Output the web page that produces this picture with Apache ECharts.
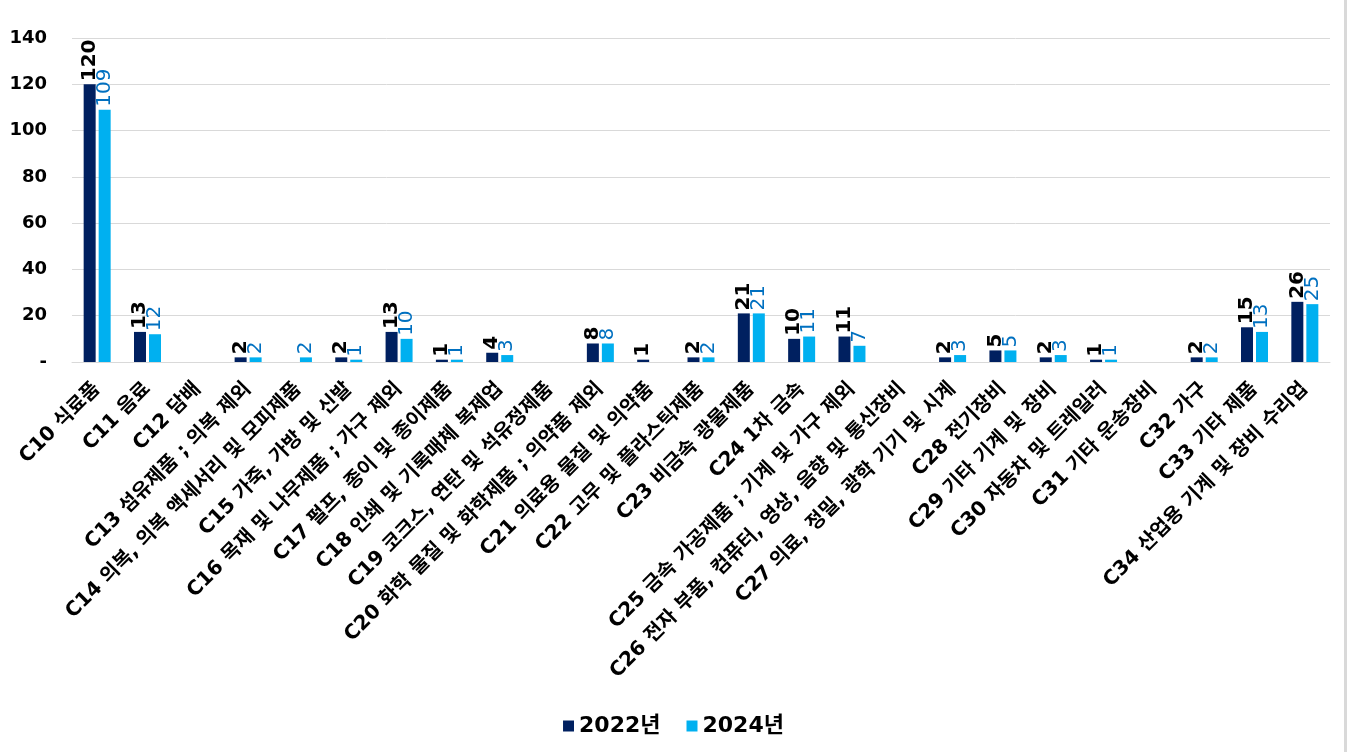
<!DOCTYPE html>
<html>
<head>
<meta charset="utf-8">
<script src="https://cdn.jsdelivr.net/npm/echarts@6/dist/echarts.min.js"></script>
<style>
html,body{margin:0;padding:0;background:#fff;}
#chart{width:1347px;height:752px;}
</style>
</head>
<body>
<div id="chart"></div>
<script>
const categories = [
  'C10 식료품','C11 음료','C12 담배','C13 섬유제품 ; 의복 제외','C14 의복, 의복 액세서리 및 모피제품',
  'C15 가죽, 가방 및 신발','C16 목재 및 나무제품 ; 가구 제외','C17 펄프, 종이 및 종이제품','C18 인쇄 및 기록매체 복제업',
  'C19 코크스, 연탄 및 석유정제품','C20 화학 물질 및 화학제품 ; 의약품 제외','C21 의료용 물질 및 의약품',
  'C22 고무 및 플라스틱제품','C23 비금속 광물제품','C24 1차 금속','C25 금속 가공제품 ; 기계 및 가구 제외',
  'C26 전자 부품, 컴퓨터, 영상, 음향 및 통신장비','C27 의료, 정밀, 광학 기기 및 시계','C28 전기장비',
  'C29 기타 기계 및 장비','C30 자동차 및 트레일러','C31 기타 운송장비','C32 가구','C33 기타 제품',
  'C34 산업용 기계 및 장비 수리업'
];
const values2022 = [120,13,null,2,null,2,13,1,4,null,8,1,2,21,10,11,null,2,5,2,1,null,2,15,26];
const values2024 = [109,12,null,2,2,1,10,1,3,null,8,null,2,21,11,7,null,3,5,3,1,null,2,13,25];
const yTicks = { min: 0, max: 140, interval: 20 };
const seriesNames = ['2022년','2024년'];

const FONT = "'DejaVu Sans', 'Noto Sans CJK KR', sans-serif";
const chart = echarts.init(document.getElementById('chart'));
chart.setOption({
  animation: false,
  textStyle: { fontFamily: FONT },
  grid: { left: 72, right: 17, top: 38, bottom: 390, containLabel: false },
  legend: {
    data: seriesNames,
    bottom: 10,
    left: 'center',
    itemWidth: 11,
    itemHeight: 11,
    itemGap: 26,
    icon: 'rect',
    textStyle: { fontSize: 22, fontWeight: 'bold', color: '#000', fontFamily: FONT }
  },
  xAxis: {
    type: 'category',
    data: categories,
    axisLine: { lineStyle: { color: '#d9d9d9', width: 1 } },
    axisTick: { show: false },
    axisLabel: {
      interval: 0,
      rotate: 45,
      margin: 24,
      fontSize: 20,
      fontWeight: 'bold',
      color: '#000',
      fontFamily: FONT
    }
  },
  yAxis: {
    type: 'value',
    min: yTicks.min, max: yTicks.max, interval: yTicks.interval,
    axisLine: { show: false },
    axisTick: { show: false },
    splitLine: { lineStyle: { color: '#d9d9d9', width: 1 } },
    axisLabel: {
      margin: 25,
      fontSize: 18,
      fontWeight: 'bold',
      color: '#000',
      fontFamily: FONT,
      formatter: v => v === 0 ? '-' : String(v)
    }
  },
  series: [
    {
      name: seriesNames[0], type: 'bar', data: values2022,
      barWidth: 12, barGap: '25%',
      itemStyle: { color: '#002060' },
      label: {
        show: true, position: 'top', rotate: 90, align: 'left', verticalAlign: 'middle',
        distance: 3, fontSize: 20, fontWeight: 'bold', color: '#000', fontFamily: FONT
      }
    },
    {
      name: seriesNames[1], type: 'bar', data: values2024,
      barWidth: 12, barGap: '25%',
      itemStyle: { color: '#00B0F0' },
      label: {
        show: true, position: 'top', rotate: 90, align: 'left', verticalAlign: 'middle',
        distance: 3, fontSize: 20, fontWeight: 'normal', color: '#0070C0', fontFamily: FONT
      }
    }
  ],
  graphic: [
    { type: 'rect', shape: { x: 1344, y: 0, width: 3, height: 752 }, style: { fill: '#d9d9d9' }, silent: true }
  ]
});
</script>
</body>
</html>
